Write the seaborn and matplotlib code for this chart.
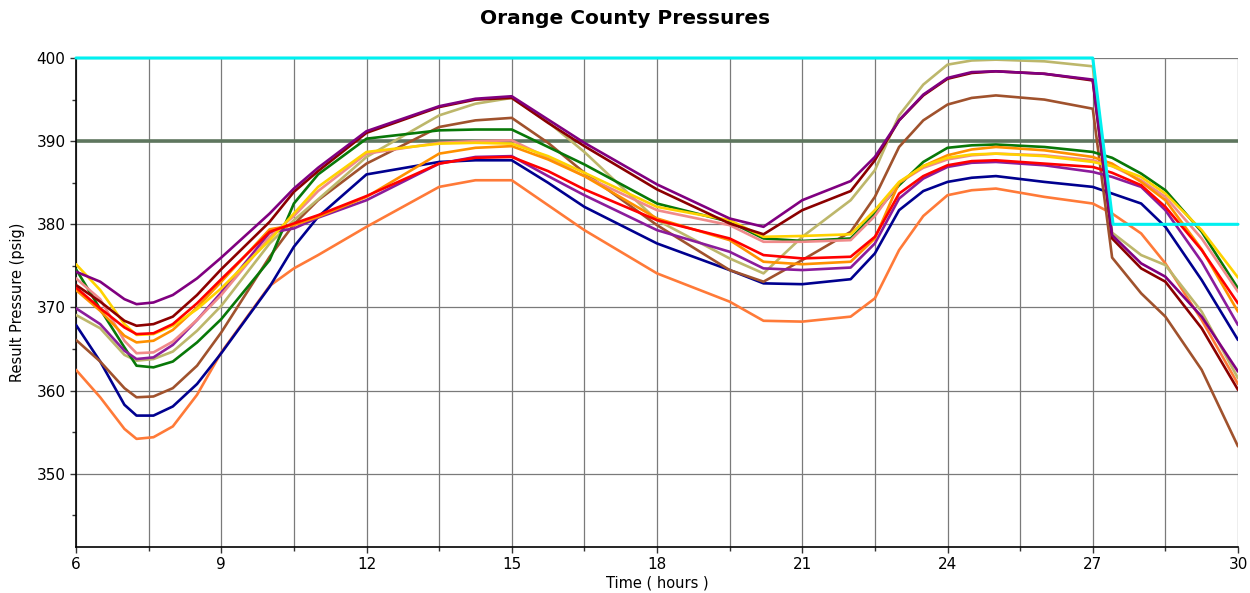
import seaborn as sns
import matplotlib.pyplot as plt
import matplotlib.ticker as mticker
import pandas as pd

# Time axis (hours) shared by every pressure trace
hours = [6, 6.5, 7, 7.25, 7.6, 8, 8.5, 9, 10, 10.5, 11, 12, 13.5, 14.25, 15, 15.75,
         16.5, 18, 19.5, 20.2, 21, 22, 22.5, 23, 23.5, 24, 24.5, 25, 26, 27, 27.4,
         28, 28.5, 29.25, 30]

# Result pressure (psig) per node
coral = [362.5, 359.2, 355.4, 354.2, 354.4, 355.7, 359.5, 364.6, 372.6, 374.7, 376.3,
         379.7, 384.5, 385.3, 385.3, 382.3, 379.3, 374.1, 370.7, 368.4, 368.3, 368.9,
         371.1, 376.9, 381.0, 383.5, 384.1, 384.3, 383.3, 382.5, 381.3, 378.9, 375.3,
         368.5, 360.8]
navy = [367.9, 363.5, 358.3, 357.0, 357.0, 358.1, 360.8, 364.5, 372.5, 377.3, 380.9,
        386.0, 387.5, 387.7, 387.7, 385.0, 382.1, 377.7, 374.5, 372.9, 372.8, 373.4,
        376.5, 381.7, 384.0, 385.1, 385.6, 385.8, 385.1, 384.5, 383.7, 382.5, 379.7,
        373.3, 366.1]
sienna = [366.1, 363.5, 360.3, 359.2, 359.3, 360.3, 363.0, 367.0, 376.1, 380.0, 382.9,
          387.3, 391.7, 392.5, 392.8, 389.8, 386.2, 379.9, 374.5, 373.1, 375.7, 379.1,
          383.3, 389.3, 392.5, 394.4, 395.2, 395.5, 395.0, 393.9, 376.0, 371.7, 368.9,
          362.5, 353.3]
khaki = [369.1, 367.5, 364.3, 363.6, 363.8, 364.7, 367.2, 370.2, 377.7, 380.5, 383.0,
         388.1, 393.1, 394.5, 395.2, 392.3, 388.7, 380.5, 375.9, 374.1, 378.5, 382.9,
         386.5, 393.1, 396.8, 399.2, 399.7, 399.8, 399.6, 399.0, 379.0, 376.3, 375.1,
         369.5, 361.5]
green = [374.6, 369.8, 365.2, 363.0, 362.8, 363.5, 365.8, 368.6, 375.7, 382.5, 386.0,
         390.3, 391.3, 391.4, 391.4, 389.3, 387.2, 382.5, 380.3, 378.3, 378.0, 378.3,
         381.3, 384.7, 387.5, 389.2, 389.5, 389.6, 389.3, 388.7, 388.0, 386.1, 384.1,
         379.1, 372.3]
violet = [369.9, 368.0, 364.8, 363.8, 364.0, 365.5, 368.5, 371.8, 379.0, 379.5, 380.8,
          382.9, 387.3, 388.1, 388.2, 385.8, 383.5, 379.3, 376.7, 374.7, 374.5, 374.8,
          377.7, 383.1, 385.5, 386.9, 387.4, 387.5, 387.1, 386.3, 385.7, 384.5, 381.7,
          375.5, 367.9]
pink = [373.5, 371.0, 366.0, 364.5, 364.6, 365.9, 368.5, 371.5, 378.5, 381.0, 384.0,
        388.5, 389.8, 390.0, 390.1, 388.0, 385.8, 381.7, 379.9, 377.9, 377.9, 378.1,
        381.0, 385.0, 386.8, 387.8, 388.3, 388.5, 388.3, 387.7, 387.0, 385.3, 383.3,
        378.3, 371.9]
orange = [372.1, 369.6, 366.6, 365.8, 366.0, 367.3, 370.0, 373.1, 379.4, 379.9, 380.9,
          383.3, 388.5, 389.2, 389.4, 387.8, 385.8, 380.7, 378.1, 375.5, 375.2, 375.5,
          378.3, 385.0, 387.0, 388.3, 389.0, 389.3, 388.9, 388.1, 387.3, 385.1, 382.9,
          377.0, 369.5]
yellow = [375.2, 372.1, 368.0, 366.7, 366.8, 367.8, 369.8, 372.3, 378.1, 381.3, 384.5,
          388.7, 389.7, 389.8, 389.7, 388.2, 386.2, 382.1, 380.5, 378.5, 378.6, 378.8,
          381.7, 385.1, 387.0, 388.0, 388.4, 388.5, 388.2, 387.5, 387.0, 385.7, 383.7,
          379.3, 373.6]
red = [372.4, 369.9, 367.6, 366.8, 366.9, 368.0, 370.5, 373.4, 379.1, 380.1, 381.1,
       383.4, 387.3, 388.0, 388.1, 386.4, 384.2, 380.5, 378.3, 376.3, 375.9, 376.1,
       378.5, 383.7, 385.8, 387.1, 387.6, 387.7, 387.3, 386.9, 386.2, 384.7, 382.1,
       376.9, 370.5]
maroon = [372.7, 370.7, 368.4, 367.8, 368.0, 368.9, 371.5, 374.6, 380.3, 383.9, 386.4,
          391.0, 394.1, 395.0, 395.2, 392.2, 389.4, 384.2, 380.1, 378.8, 381.7, 384.0,
          387.7, 392.5, 395.5, 397.5, 398.2, 398.4, 398.1, 397.3, 378.3, 374.7, 373.1,
          367.5, 360.1]
purple = [374.3, 373.1, 371.0, 370.4, 370.6, 371.5, 373.5, 376.0, 381.3, 384.3, 386.8,
          391.2, 394.2, 395.1, 395.4, 392.6, 389.8, 384.8, 380.7, 379.7, 382.9, 385.2,
          388.1, 392.5, 395.6, 397.6, 398.3, 398.4, 398.1, 397.4, 378.7, 375.3, 373.7,
          368.9, 362.3]

# Limit lines: upper pressure limit steps down after 27 h, plus a fixed target
limit_hours = [6, 27, 27.42, 30]
limit_psig = [400, 400, 380, 380]
target_hours = [6, 30]
target_psig = [390, 390]

series = {
    'coral': coral, 'navy': navy, 'sienna': sienna, 'khaki': khaki,
    'green': green, 'violet': violet, 'pink': pink, 'orange': orange,
    'yellow': yellow, 'red': red, 'maroon': maroon, 'purple': purple,
}
palette = {
    'coral': '#FF7A38', 'navy': '#00008F', 'sienna': '#A0522D', 'khaki': '#BDB76B',
    'green': '#087808', 'violet': '#8B1C9C', 'pink': '#F08A8A', 'orange': '#FF9000',
    'yellow': '#FFD200', 'red': '#FF0000', 'maroon': '#8B0000', 'purple': '#800080',
}

df = pd.DataFrame([
    {'Time': t, 'Pressure': p, 'Node': name}
    for name, values in series.items()
    for t, p in zip(hours, values)
])

sns.set_style('white')
plt.rcParams['font.family'] = ['DejaVu Sans']
plt.rcParams['text.color'] = 'black'
plt.rcParams['axes.labelcolor'] = 'black'
plt.rcParams['xtick.color'] = 'black'
plt.rcParams['ytick.color'] = 'black'

fig = plt.figure(figsize=(12.5, 5.93), dpi=100)
ax = fig.add_axes([0.0608, 0.0776, 0.9296, 0.8246])

# Target line under the traces
sns.lineplot(x=target_hours, y=target_psig, ax=ax, color='#5E765E',
             linewidth=2.6, zorder=2)

sns.lineplot(data=df, x='Time', y='Pressure', hue='Node', palette=palette,
             hue_order=list(series.keys()), estimator=None, sort=False,
             linewidth=1.9, legend=False, ax=ax, zorder=3)

# Upper limit drawn on top
sns.lineplot(x=limit_hours, y=limit_psig, ax=ax, color='#00F0F0',
             linewidth=2.2, estimator=None, sort=False, zorder=5)
ax.lines[-1].set_clip_on(False)
for line in ax.lines:
    line.set_solid_joinstyle('round')

ax.set_xlim(6, 30)
ax.set_ylim(341.2, 400)
ax.xaxis.set_major_locator(mticker.MultipleLocator(3))
ax.xaxis.set_minor_locator(mticker.MultipleLocator(1.5))
ax.set_yticks([350, 360, 370, 380, 390, 400])
ax.yaxis.set_minor_locator(mticker.MultipleLocator(5))

ax.grid(which='major', axis='both', color='#7a7a7a', linewidth=0.9)
ax.grid(which='minor', axis='x', color='#7a7a7a', linewidth=0.9)
ax.set_axisbelow(True)

for side in ['top', 'right']:
    ax.spines[side].set_visible(False)
for side in ['left', 'bottom']:
    ax.spines[side].set_color('black')
    ax.spines[side].set_linewidth(1.2)

ax.tick_params(which='both', direction='out', length=4, width=1, color='#333333',
               labelsize=11, left=True, bottom=True)
ax.tick_params(which='minor', length=3)

ax.set_xlabel('Time ( hours )', fontsize=10.5, labelpad=2)
ax.set_ylabel('Result Pressure (psig)', fontsize=10.5, labelpad=8)
fig.suptitle('Orange County Pressures', fontsize=14.5, fontweight='bold', y=0.985)

plt.savefig('out.png', dpi=100)
plt.close()
